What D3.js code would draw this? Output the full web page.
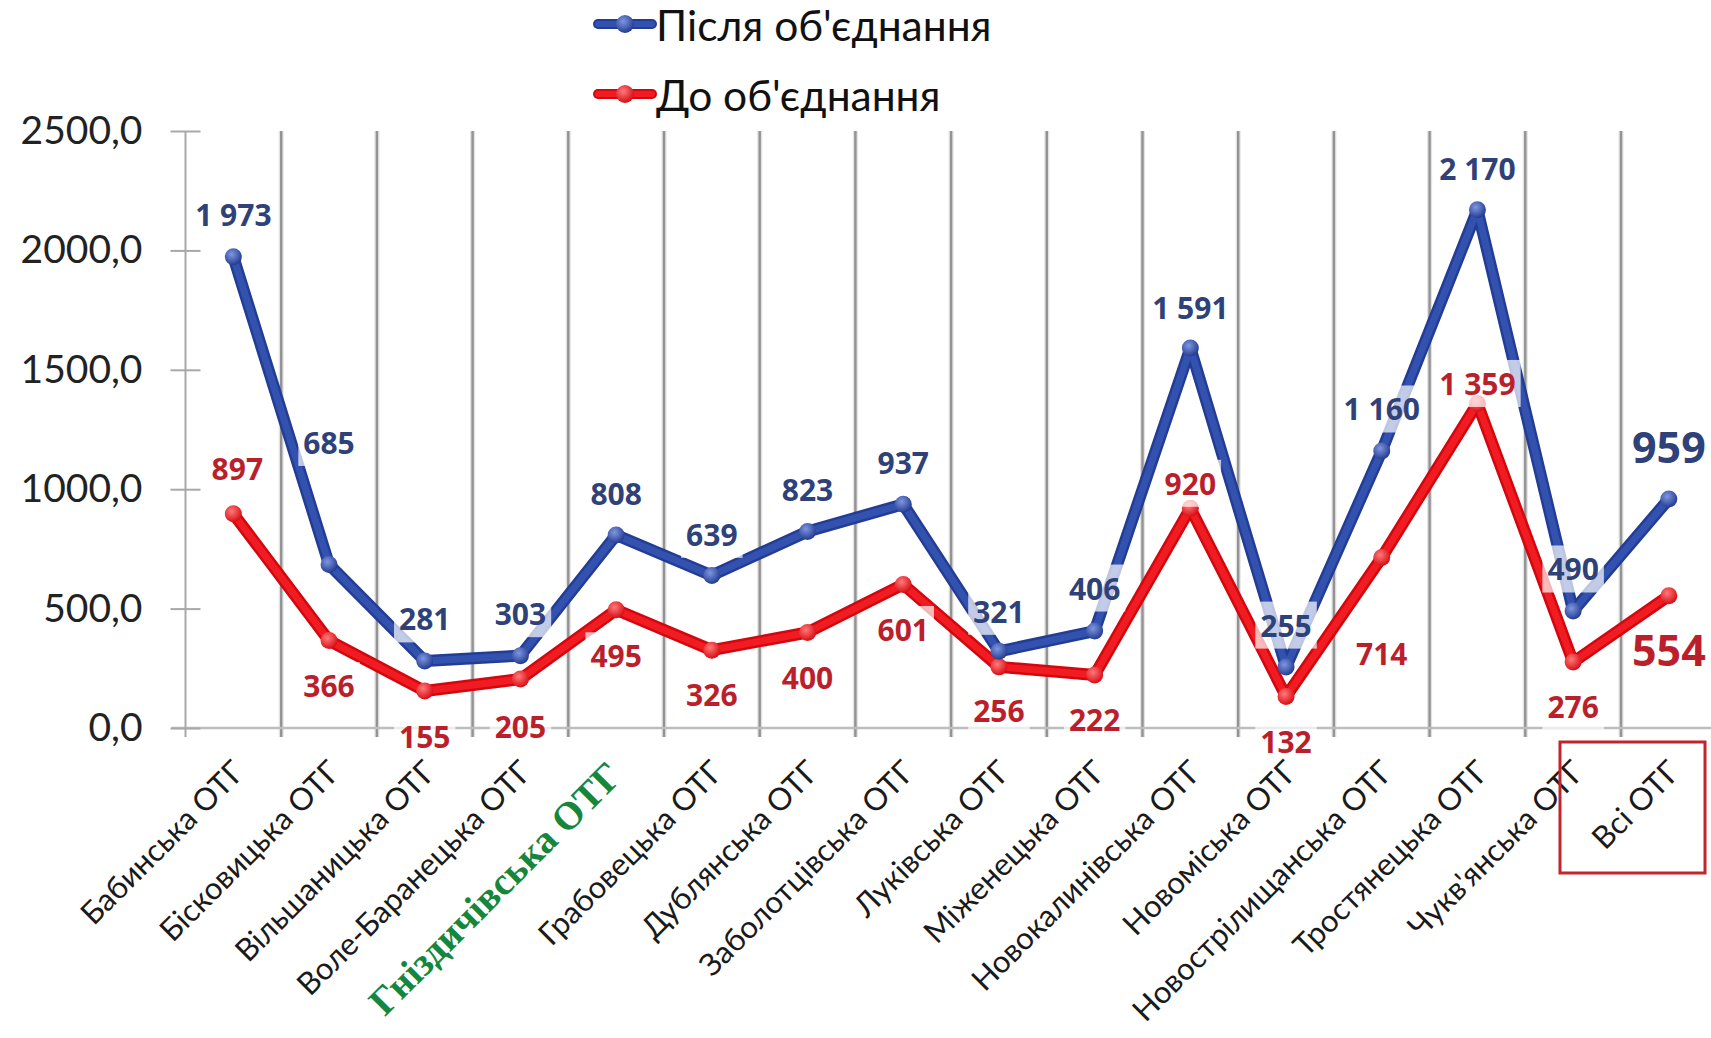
<!DOCTYPE html>
<html><head><meta charset="utf-8">
<script src="https://cdn.jsdelivr.net/npm/d3@7"></script>
<style>html,body{margin:0;padding:0;background:#fff;overflow:hidden}</style>
</head><body><svg id="chart" width="1711" height="1038"></svg>
<script>
// ---------- data ----------
const categories = ["Бабинська ОТГ","Бісковицька ОТГ","Вільшаницька ОТГ","Воле-Баранецька ОТГ","Гніздичівська ОТГ","Грабовецька ОТГ","Дублянська ОТГ","Заболотцівська ОТГ","Луківська ОТГ","Міженецька ОТГ","Новокалинівська ОТГ","Новоміська ОТГ","Новострілищанська ОТГ","Тростянецька ОТГ","Чукв'янська ОТГ","Всі ОТГ"];
const afterValues  = [1973,685,281,303,808,639,823,937,321,406,1591,255,1160,2170,490,959];
const beforeValues = [897,366,155,205,495,326,400,601,256,222,920,132,714,1359,276,554];
const seriesNames = ["Після об'єднання","До об'єднання"];
const yTickValues = [0,500,1000,1500,2000,2500];
const highlightCategory = "Гніздичівська ОТГ";
const totalCategory = "Всі ОТГ";

// ---------- layout (separate from data) ----------
const L = {left:185.5, right:1716.7, top:131, bottom:728};
const afterLabelDy  = [-42,-122,-42,-42,-42,-41,-42,-42,-40,-43,-41,-42,-42,-41,-42,-52];
const beforeLabelDy = [-45,45,46,47,46,44,45,45,44,45,-25,45,96,-20,44,54];
const beforeLabelDx = [4,0,0,0,0,0,0,0,0,0,0,0,0,0,0,0];

const locale = d3.formatLocale({decimal:",", thousands:"\u00a0", grouping:[3], currency:["",""]});
const fmtTick = locale.format(".1f");
const fmtLabel = locale.format(",d");

const svg = d3.select("#chart");
svg.append("rect").attr("width",1711).attr("height",1038).attr("fill","#fff");

const x = d3.scaleBand().domain(categories).range([L.left, L.right]).padding(0);
const y = d3.scaleLinear().domain([0,2500]).range([L.bottom, L.top]);
const cx = c => x(c) + x.bandwidth()/2;

const defs = svg.append("defs");
function grad(id, c1, c2){
  const g = defs.append("radialGradient").attr("id",id).attr("cx","40%").attr("cy","35%").attr("r","65%");
  g.append("stop").attr("offset","0%").attr("stop-color",c1);
  g.append("stop").attr("offset","100%").attr("stop-color",c2);
}
grad("gBlue","#7f97e0","#233c92");
grad("gRed","#ff7a7a","#d80d14");

// vertical gridlines at category boundaries
const grid = svg.append("g");
categories.forEach((c,i)=>{
  if(i===0) return;
  grid.append("line").attr("x1",x(c)).attr("x2",x(c)).attr("y1",L.top).attr("y2",L.bottom+9)
    .attr("stroke","#e2e2e2").attr("stroke-width",5);
  grid.append("line").attr("x1",x(c)).attr("x2",x(c)).attr("y1",L.top).attr("y2",L.bottom+9)
    .attr("stroke","#939393").attr("stroke-width",2.4);
});

// x axis baseline
svg.append("line").attr("x1",L.left-14).attr("x2",L.right).attr("y1",y(0)).attr("y2",y(0))
  .attr("stroke","#bdbdbd").attr("stroke-width",2.5);

// y axis
const yAxis = d3.axisLeft(y).tickValues(yTickValues).tickFormat(fmtTick).tickSizeInner(15).tickSizeOuter(0).tickPadding(28);
const yg = svg.append("g").attr("transform",`translate(${L.left},0)`).call(yAxis);
yg.select(".domain").attr("stroke","#a8a8a8").attr("stroke-width",2).attr("d",`M0,${L.top}V${L.bottom+9}`);
yg.selectAll(".tick line").attr("stroke","#a8a8a8").attr("stroke-width",2).attr("x1",15);
yg.selectAll(".tick text").attr("font-family","Lato, sans-serif").attr("font-size",39).attr("fill","#222");

// lines
const lineGen = d3.line().x((d,i)=>cx(categories[i])).y(d=>y(d));
function drawSeries(vals, dark, main, gradId){
  const g = svg.append("g");
  g.append("path").datum(vals).attr("d",lineGen).attr("fill","none").attr("stroke",dark)
    .attr("stroke-width",12).attr("stroke-linejoin","round").attr("stroke-linecap","round");
  g.append("path").datum(vals).attr("d",lineGen).attr("fill","none").attr("stroke",main)
    .attr("stroke-width",7).attr("stroke-linejoin","round").attr("stroke-linecap","round");
  g.selectAll("circle").data(vals).join("circle")
    .attr("cx",(d,i)=>cx(categories[i])).attr("cy",d=>y(d)).attr("r",8.5)
    .attr("fill",`url(#${gradId})`);
}
drawSeries(beforeValues,"#d4060e","#f01c22","gRed");
drawSeries(afterValues,"#233d95","#3352b0","gBlue");

// data labels
const labG = svg.append("g");
function drawLabels(vals, color, dyArr, dxArr){
  vals.forEach((v,i)=>{
    const big = categories[i]===totalCategory;
    const g = labG.append("g");
    const t = g.append("text").attr("x",cx(categories[i])+(dxArr?dxArr[i]:0)).attr("y",y(v)+dyArr[i])
      .attr("text-anchor","middle").attr("dominant-baseline","central")
      .attr("font-family","'Open Sans', sans-serif").attr("font-weight",700)
      .attr("font-size",big?43:30).attr("fill",color).text(fmtLabel(v));
    const b = t.node().getBBox();
    g.insert("rect","text").attr("x",b.x-5).attr("y",b.y-3).attr("width",b.width+10).attr("height",b.height+6)
      .attr("fill","#fff").attr("fill-opacity",big?0:0.7);
  });
}
drawLabels(afterValues,"#2f4179",afterLabelDy,null);
drawLabels(beforeValues,"#bb1f2c",beforeLabelDy,beforeLabelDx);

// category labels
const catG = svg.append("g");
categories.forEach((c,i)=>{
  const hl = c===highlightCategory;
  catG.append("text").attr("transform",`translate(${cx(c)+(hl?8:13)},${L.bottom+(hl?50:46)}) rotate(-45)`)
    .attr("text-anchor","end")
    .attr("font-family", hl ? "'Liberation Serif', serif" : "Lato, sans-serif")
    .attr("font-weight", hl ? 700 : 400)
    .attr("font-size", hl ? 39 : 31)
    .attr("fill", hl ? "#14873c" : "#1a1a1a").text(c);
});

// box around total category
svg.append("rect").attr("x",1560).attr("y",742).attr("width",145).attr("height",131)
  .attr("fill","none").attr("stroke","#c3242c").attr("stroke-width",3);

// legend
const legendItems = [{name:seriesNames[0], dark:"#233d95", main:"#3352b0", grad:"gBlue", y:24},
                     {name:seriesNames[1], dark:"#d4060e", main:"#f01c22", grad:"gRed", y:94}];
const lg = svg.append("g");
legendItems.forEach(it=>{
  lg.append("line").attr("x1",598).attr("x2",652).attr("y1",it.y).attr("y2",it.y).attr("stroke",it.dark).attr("stroke-width",10).attr("stroke-linecap","round");
  lg.append("line").attr("x1",598).attr("x2",652).attr("y1",it.y).attr("y2",it.y).attr("stroke",it.main).attr("stroke-width",6).attr("stroke-linecap","round");
  lg.append("circle").attr("cx",625).attr("cy",it.y).attr("r",9).attr("fill",`url(#${it.grad})`);
  lg.append("text").attr("x",656).attr("y",it.y).attr("dominant-baseline","central")
    .attr("font-family","Lato, sans-serif").attr("font-size",42.5).attr("fill","#111").text(it.name);
});
</script></body></html>
